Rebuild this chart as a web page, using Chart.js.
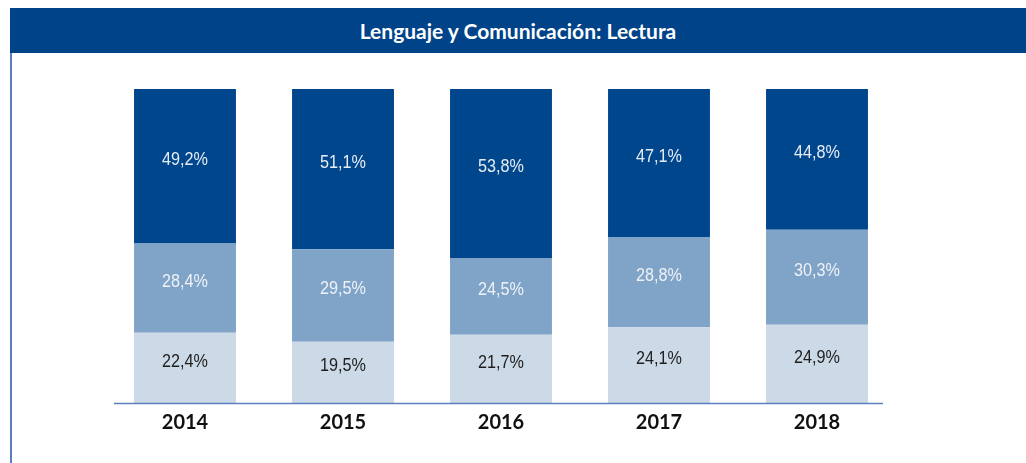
<!DOCTYPE html>
<html>
<head>
<meta charset="utf-8">
<script src="https://cdn.jsdelivr.net/npm/chart.js@4"></script>
<style>
  body { margin: 0; background: #fff; width: 1026px; height: 463px; overflow: hidden; position: relative; }
  #frame { position: absolute; left: 10px; top: 8px; width: 1016px; height: 455px; border-left: 2px solid #5a7fb8; box-sizing: border-box; }
  #titulo { position: absolute; left: 10px; top: 8px; width: 1016px; height: 45px; background: #004388;
    color: #fff; font: bold 21px Lato, sans-serif; text-align: center; line-height: 45px; }
  #wrap { position: absolute; left: 0; top: 0; width: 1026px; height: 463px; }
</style>
</head>
<body>
<div id="frame"></div>
<div id="titulo">Lenguaje y Comunicación: Lectura</div>
<div id="wrap"><canvas id="chart"></canvas></div>
<script>
// datos
const anios = ['2014', '2015', '2016', '2017', '2018'];
const nivelBajo = [22.4, 19.5, 21.7, 24.1, 24.9];
const nivelMedio = [28.4, 29.5, 24.5, 28.8, 30.3];
const nivelAlto = [49.2, 51.1, 53.8, 47.1, 44.8];

const colores = ['#ccd9e6', '#80a3c8', '#00468c'];
const coloresTexto = ['#1e1e1e', '#eef2f7', '#e6ecf4'];

function fmt(v) {
  return v.toFixed(1).replace('.', ',') + '%';
}

// etiquetas dentro de las barras
const etiquetas = {
  id: 'etiquetas',
  afterDatasetsDraw(chart) {
    const ctx = chart.ctx;
    ctx.save();
    ctx.textAlign = 'center';
    ctx.textBaseline = 'middle';
    ctx.font = '18px "Liberation Sans", Arial, sans-serif';
    chart.data.datasets.forEach((ds, i) => {
      const meta = chart.getDatasetMeta(i);
      meta.data.forEach((bar, j) => {
        const y = (bar.y + bar.base) / 2 - 6;
        ctx.fillStyle = coloresTexto[i];
        ctx.save();
        ctx.translate(bar.x, y);
        ctx.scale(0.9, 1);
        ctx.fillText(fmt(ds.data[j]), 0, 0);
        ctx.restore();
      });
    });
    ctx.restore();
  }
};

// linea del eje
const ejeX = {
  id: 'ejeX',
  afterDatasetsDraw(chart) {
    const { ctx, chartArea } = chart;
    ctx.save();
    ctx.strokeStyle = '#5b7fbf';
    ctx.lineWidth = 1.5;
    ctx.beginPath();
    ctx.moveTo(chartArea.left + 8, chartArea.bottom + 0.5);
    ctx.lineTo(chartArea.right - 13, chartArea.bottom + 0.5);
    ctx.stroke();
    ctx.restore();
  }
};

new Chart(document.getElementById('chart').getContext('2d'), {
  type: 'bar',
  data: {
    labels: anios,
    datasets: [
      { label: 'Bajo', data: nivelBajo, backgroundColor: colores[0] },
      { label: 'Medio', data: nivelMedio, backgroundColor: colores[1] },
      { label: 'Alto', data: nivelAlto, backgroundColor: colores[2] }
    ]
  },
  options: {
    responsive: true,
    maintainAspectRatio: false,
    animation: false,
    layout: { padding: { left: 106, right: 130, top: 89, bottom: 20 } },
    datasets: { bar: { barPercentage: 0.645, categoryPercentage: 1 } },
    plugins: {
      legend: { display: false },
      tooltip: { enabled: false }
    },
    scales: {
      x: {
        stacked: true,
        grid: { display: false, drawTicks: false },
        border: { display: false },
        ticks: { color: '#111', padding: 8, font: { family: 'Lato', weight: 'bold', size: 20 } }
      },
      y: {
        stacked: true,
        display: false,
        min: 0,
        max: 100
      }
    }
  },
  plugins: [etiquetas, ejeX]
});
</script>
</body>
</html>
